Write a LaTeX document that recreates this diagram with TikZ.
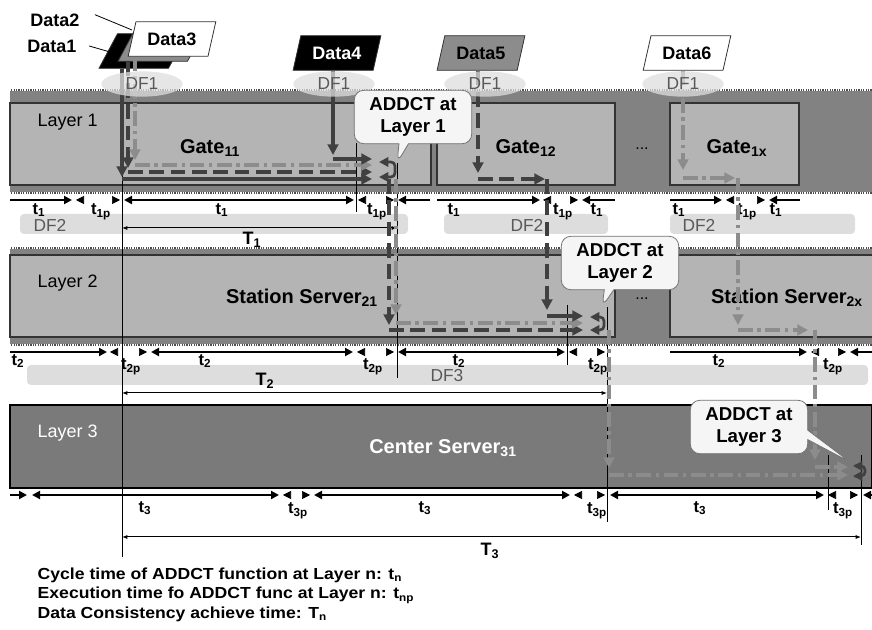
\documentclass[tikz,border=0pt]{standalone}
\usepackage{fontspec}
\setmainfont{Liberation Sans}
\newfontfamily\keyfont[FakeStretch=1.1]{Liberation Sans}
\usetikzlibrary{arrows.meta,positioning,calc,shapes.geometric,shapes.callouts}
\definecolor{bandgray}{HTML}{828282}
\definecolor{boxgray}{HTML}{B4B4B4}
\definecolor{deepgray}{HTML}{7A7A7A}
\definecolor{flowdark}{HTML}{404040}
\definecolor{flowlight}{HTML}{8C8C8C}
\definecolor{dfgray}{HTML}{DDDDDD}
\tikzset{
  >={Triangle[length=6pt,width=6pt]},
  band/.style   ={fill=bandgray},
  rim/.style    ={draw=black!70, line width=2.2pt},
  rimdots/.style={draw=white, line width=1.2pt, dash pattern=on 0.9pt off 0.9pt},
  gbox/.style   ={draw=black!80, fill=boxgray, line width=0.8pt},
  lay/.style    ={anchor=west, font=\fontsize{13.5}{16}\selectfont},
  unit/.style   ={font=\bfseries\fontsize{15}{18}\selectfont},
  data/.style   ={trapezium, trapezium left angle=70, trapezium right angle=110,
                  trapezium stretches=true, draw=black!80, line width=0.6pt,
                  minimum width=66pt, minimum height=26pt, inner sep=1pt,
                  font=\bfseries\fontsize{13.5}{15}\selectfont},
  dlbl/.style   ={font=\bfseries\fontsize{13.5}{15}\selectfont},
  lead/.style   ={draw=black, line width=0.6pt},
  df/.style     ={ellipse, fill=dfgray, fill opacity=0.75, text opacity=1, text=black!65,
                  minimum width=61pt, minimum height=19pt, inner sep=0pt,
                  font=\fontsize{13}{15}\selectfont},
  dfbar/.style  ={fill=dfgray, rounded corners=3pt},
  dftxt/.style  ={text=black!65, font=\fontsize{13}{15}\selectfont},
  addct/.style  ={rectangle callout, draw=black!55, fill=black!4, rounded corners=7pt,
                  align=center, minimum width=88pt, minimum height=40pt, inner sep=1pt,
                  line width=0.6pt, font=\bfseries\fontsize{14}{17}\selectfont},
  tcyc/.style   ={line width=2.2pt, <->},
  tex/.style    ={line width=0.5pt, double, double distance=1.2pt, <->},
  tsum/.style   ={line width=0.75pt, {Latex[length=4pt,width=3pt]}-{Latex[length=4pt,width=3pt]}},
  tick/.style   ={draw=black, line width=0.75pt},
  tl/.style     ={font=\bfseries\fontsize{12.5}{14}\selectfont},
  Tl/.style     ={font=\bfseries\fontsize{13.5}{15}\selectfont},
  fsolid/.style ={draw=flowdark, line width=2.8pt, -{Triangle[length=8pt,width=8pt]}},
  fdash/.style  ={fsolid, dash pattern=on 11pt off 5pt},
  fdot/.style   ={fsolid, draw=flowlight, dash pattern=on 11pt off 3.5pt on 2.5pt off 3.5pt},
  fret/.style   ={draw=flowdark, line width=2pt, rounded corners=3pt,
                  {Triangle[length=7pt,width=7pt]}-{Triangle[length=7pt,width=7pt]}},
  legend/.style ={align=left, font=\keyfont\bfseries\fontsize{12}{14.6}\selectfont},
}
\begin{document}
\begin{tikzpicture}[x=0.75pt, y=-0.75pt]
\useasboundingbox (0,0) rectangle (872,630);

% Layer 1 band with the gates
\fill[band] (10,90) rectangle (872,193);
\draw[rim] (10,90) -- (872,90); \draw[rimdots] (10,90) -- (872,90);
\draw[rim] (10,193) -- (872,193); \draw[rimdots] (10,193) -- (872,193);
\draw[gbox] (10,103) rectangle (431,185);
\draw[gbox] (437,103) rectangle (615,185);
\draw[gbox] (670,103) rectangle (799,185);
\node[lay] (lay1) at (33,122) {Layer 1};
\node[unit] (g11) at (210,148) {Gate\textsubscript{11}};
\node[unit] (g12) at (526,148) {Gate\textsubscript{12}};
\node[unit] (g1x) at (737,148) {Gate\textsubscript{1x}};
\node[font=\fontsize{12}{14}\selectfont] (dots1) at (642,149) {...};

% Layer 2 band with the station servers
\fill[band] (10,248) rectangle (872,345);
\draw[rim] (10,248) -- (872,248); \draw[rimdots] (10,248) -- (872,248);
\draw[rim] (10,345) -- (872,345); \draw[rimdots] (10,345) -- (872,345);
\draw[gbox] (10,255) rectangle (615,337);
\fill[boxgray] (670,255) rectangle (872,337);
\draw[draw=black!80, line width=0.8pt] (872,255) -- (670,255) -- (670,337) -- (872,337);
\node[lay] (lay2) at (33,283) {Layer 2};
\node[unit] (s21) at (302,298) {Station Server\textsubscript{21}};
\node[unit] (s2x) at (787,298) {Station Server\textsubscript{2x}};
\node[font=\fontsize{12}{14}\selectfont] (dots2) at (642,299) {...};

% Layer 3 band
\draw[fill=deepgray, draw=black, line width=0.8pt] (10,405) rectangle (872,488);
\node[lay, text=white] (lay3) at (33,433) {Layer 3};
\node[unit, text=white] (c31) at (443,448) {Center Server\textsubscript{31}};

% DF2 / DF3 bars
\fill[dfbar] (20,214) rectangle (408,234);
\fill[dfbar] (444,214) rectangle (608,234);
\fill[dfbar] (670,214) rectangle (855,234);
\fill[dfbar] (27,365) rectangle (868,385);
\node[dftxt] (df2a) at (50,225) {DF2};
\node[dftxt] (df2b) at (527,225) {DF2};
\node[dftxt] (df2c) at (699,225) {DF2};
\node[dftxt] (df3) at (447,376) {DF3};

% cycle row, layer 1
\draw[tcyc,->] (10,200) -- (72,200);
\draw[tex] (76,200) -- (120,200);
\draw[tcyc] (124,200) -- (354,200);
\draw[tex] (358,200) -- (394,200);
\draw[tcyc,<-] (398,200) -- (430,200);
\draw[tcyc,->] (437,200) -- (540,200);
\draw[tex] (543,200) -- (578,200);
\draw[tcyc,<-] (582,200) -- (615,200);
\draw[tcyc,->] (670,200) -- (722,200);
\draw[tex] (726,200) -- (765,200);
\draw[tcyc,<-] (769,200) -- (800,200);
\node[tl] (ta1) at (39,210) {t\textsubscript{1}};
\node[tl] (ta2) at (101,212) {t\textsubscript{1p}};
\node[tl] (ta3) at (222,210) {t\textsubscript{1}};
\node[tl] (ta4) at (377,212) {t\textsubscript{1p}};
\node[tl] (ta5) at (454,210) {t\textsubscript{1}};
\node[tl] (ta6) at (563,212) {t\textsubscript{1p}};
\node[tl] (ta7) at (597,210) {t\textsubscript{1}};
\node[tl] (ta8) at (679,210) {t\textsubscript{1}};
\node[tl] (ta9) at (747,212) {t\textsubscript{1p}};
\node[tl] (ta10) at (776,210) {t\textsubscript{1}};

% cycle row, layer 2
\draw[tcyc,->] (10,352) -- (107,352);
\draw[tex] (110,352) -- (147,352);
\draw[tcyc] (151,352) -- (353,352);
\draw[tex] (357,352) -- (394,352);
\draw[tcyc] (398,352) -- (565,352);
\draw[tex] (569,352) -- (605,352);
\draw[tcyc,->] (670,352) -- (807,352);
\draw[tex] (811,352) -- (846,352);
\draw[tcyc,<-] (850,352) -- (872,352);
\node[tl] (tb1) at (18,361) {t\textsubscript{2}};
\node[tl] (tb2) at (131,367) {t\textsubscript{2p}};
\node[tl] (tb3) at (205,361) {t\textsubscript{2}};
\node[tl] (tb4) at (373,367) {t\textsubscript{2p}};
\node[tl] (tb5) at (459,361) {t\textsubscript{2}};
\node[tl] (tb6) at (598,367) {t\textsubscript{2p}};
\node[tl] (tb7) at (719,361) {t\textsubscript{2}};
\node[tl] (tb8) at (833,367) {t\textsubscript{2p}};

% cycle row, layer 3
\draw[tcyc,->] (10,495) -- (27,495);
\draw[tcyc] (32,495) -- (279,495);
\draw[tex] (283,495) -- (310,495);
\draw[tcyc] (314,495) -- (570,495);
\draw[tex] (574,495) -- (605,495);
\draw[tcyc] (610,495) -- (824,495);
\draw[tex] (828,495) -- (858,495);
\draw[tcyc,<-] (863,495) -- (872,495);
\node[tl] (tc1) at (145,508) {t\textsubscript{3}};
\node[tl] (tc2) at (298,511) {t\textsubscript{3p}};
\node[tl] (tc3) at (425,508) {t\textsubscript{3}};
\node[tl] (tc4) at (597,511) {t\textsubscript{3p}};
\node[tl] (tc5) at (700,508) {t\textsubscript{3}};
\node[tl] (tc6) at (843,511) {t\textsubscript{3p}};

% time marks and T spans
\draw[tick] (122,175) -- (122,557);
\draw[tick] (356,143) -- (356,212);
\draw[tick] (397,163) -- (397,378);
\draw[tick] (567,305) -- (567,365);
\draw[tick] (607,307) -- (607,522);
\draw[tick] (828,455) -- (828,510);
\draw[tick] (861,455) -- (861,545);
\draw[tsum] (122,228) -- (397,228);
\draw[tsum] (122,393) -- (607,393);
\draw[tsum] (122,537) -- (861,537);
\node[Tl] (T1) at (252,240) {T\textsubscript{1}};
\node[Tl] (T2) at (265,381) {T\textsubscript{2}};
\node[Tl] (T3) at (490,551) {T\textsubscript{3}};

% data items
\node[data, fill=black] (d1) at (143,51) {};
\node[data, fill=black!45] (d2) at (162,44) {};
\node[data, fill=white] (d3) at (172,39) {Data3};
\node[data, fill=black, text=white] (d4) at (337,53) {Data4};
\node[data, fill=black!45] (d5) at (481,53) {Data5};
\node[data, fill=white] (d6) at (687,53) {Data6};
\node[dlbl] (n2) at (55,20) {Data2};
\node[dlbl] (n1) at (52,46) {Data1};
\coordinate (p2) at (132,30);
\coordinate (p1) at (110,52);
\draw[lead] ([shift={(8pt,4pt)}]n2.east) -- (p2);
\draw[lead] ([shift={(6pt,0pt)}]n1.east) -- (p1);

% flows into layer 1
\coordinate (s1) at (122,177); \coordinate (s1e) at (372,179);
\coordinate (s2) at (128,168); \coordinate (s2e) at (372,172);
\coordinate (s3) at (135,160); \coordinate (s3e) at (372,165);
\coordinate (s4) at (333,155); \coordinate (s4e) at (372,159);
\draw[fsolid] (d1.south -| s1) -- (s1);
\draw[fsolid] (s1 |- s1e) -- (s1e);
\draw[fdash] (d2.south -| s2) -- (s2);
\draw[fdash] (s2 |- s2e) -- (s2e);
\draw[fdot] (d3.south -| s3) -- (s3);
\draw[fdot] (s3 |- s3e) -- (s3e);
\draw[fsolid] (d4.south -| s4) -- (s4);
\draw[fsolid] (s4 |- s4e) -- (s4e);
\coordinate (q1a) at (379,162); \coordinate (q1b) at (379,177);
\draw[fret] (q1a) -- ++(16,0) |- (q1b);

% layer 1 to layer 2
\coordinate (s5) at (389,325); \coordinate (s5e) at (583,330);
\coordinate (s6) at (396,315); \coordinate (s6e) at (583,323);
\draw[fdash] (s5 |- s1e) -- (s5);
\draw[fdash] (s5 |- s5e) -- (s5e);
\draw[fdot] (s6 |- s1e) -- (s6);
\draw[fdot] (s6 |- s6e) -- (s6e);

% Data5 through gate 12
\coordinate (s7) at (478,173); \coordinate (s7e) at (545,179);
\coordinate (s8) at (547,310); \coordinate (s8e) at (583,316);
\draw[fdash] (d5.south -| s7) -- (s7);
\draw[fdash] (s7 |- s7e) -- (s7e);
\draw[fdash] (s8 |- s7e) -- (s8);
\draw[fsolid] (s8 |- s8e) -- (s8e);
\coordinate (q2a) at (590,317); \coordinate (q2b) at (590,330);
\draw[fret] (q2a) -- ++(14,0) |- (q2b);

% layer 2 to layer 3
\coordinate (s9) at (609,468); \coordinate (s9e) at (848,475);
\draw[fdot] (s9 |- s5e) -- (s9);
\draw[fdot] (s9 |- s9e) -- (s9e);

% Data6 all the way down
\coordinate (s10) at (683,170); \coordinate (s10e) at (735,178);
\coordinate (s11) at (738,325); \coordinate (s11e) at (808,330);
\coordinate (s12) at (815,460); \coordinate (s12e) at (848,467);
\draw[fdot] (d6.south -| s10) -- (s10);
\draw[fdot] (s10 |- s10e) -- (s10e);
\draw[fdot] (s11 |- s10e) -- (s11);
\draw[fdot] (s11 |- s11e) -- (s11e);
\draw[fdot] (s12 |- s11e) -- (s12);
\draw[fdot] (s12 |- s12e) -- (s12e);
\coordinate (q3a) at (853,466); \coordinate (q3b) at (853,476);
\draw[fret] (q3a) -- ++(12,0) |- (q3b);

% DF1 hand-over zones
\node[df] (f1) at (142,84) {DF1};
\node[df] (f2) at (334,84) {DF1};
\node[df] (f3) at (485,84) {DF1};
\node[df] (f4) at (683,84) {DF1};

% ADDCT callouts
\node[addct, callout absolute pointer={(397,163)}] (c1) at (413,117) {ADDCT at\\Layer 1};
\node[addct, callout absolute pointer={(602,307)}] (c2) at (620,263) {ADDCT at\\Layer 2};
\node[addct, callout absolute pointer={(850,462)}] (c3) at (749,427) {ADDCT at\\Layer 3};

\node[legend, anchor=north west] (key) at (33,563) {Cycle time of ADDCT function at Layer n: t\textsubscript{n}\\Execution time fo ADDCT func at Layer n: t\textsubscript{np}\\Data Consistency achieve time: T\textsubscript{n}};
\end{tikzpicture}
\end{document}
